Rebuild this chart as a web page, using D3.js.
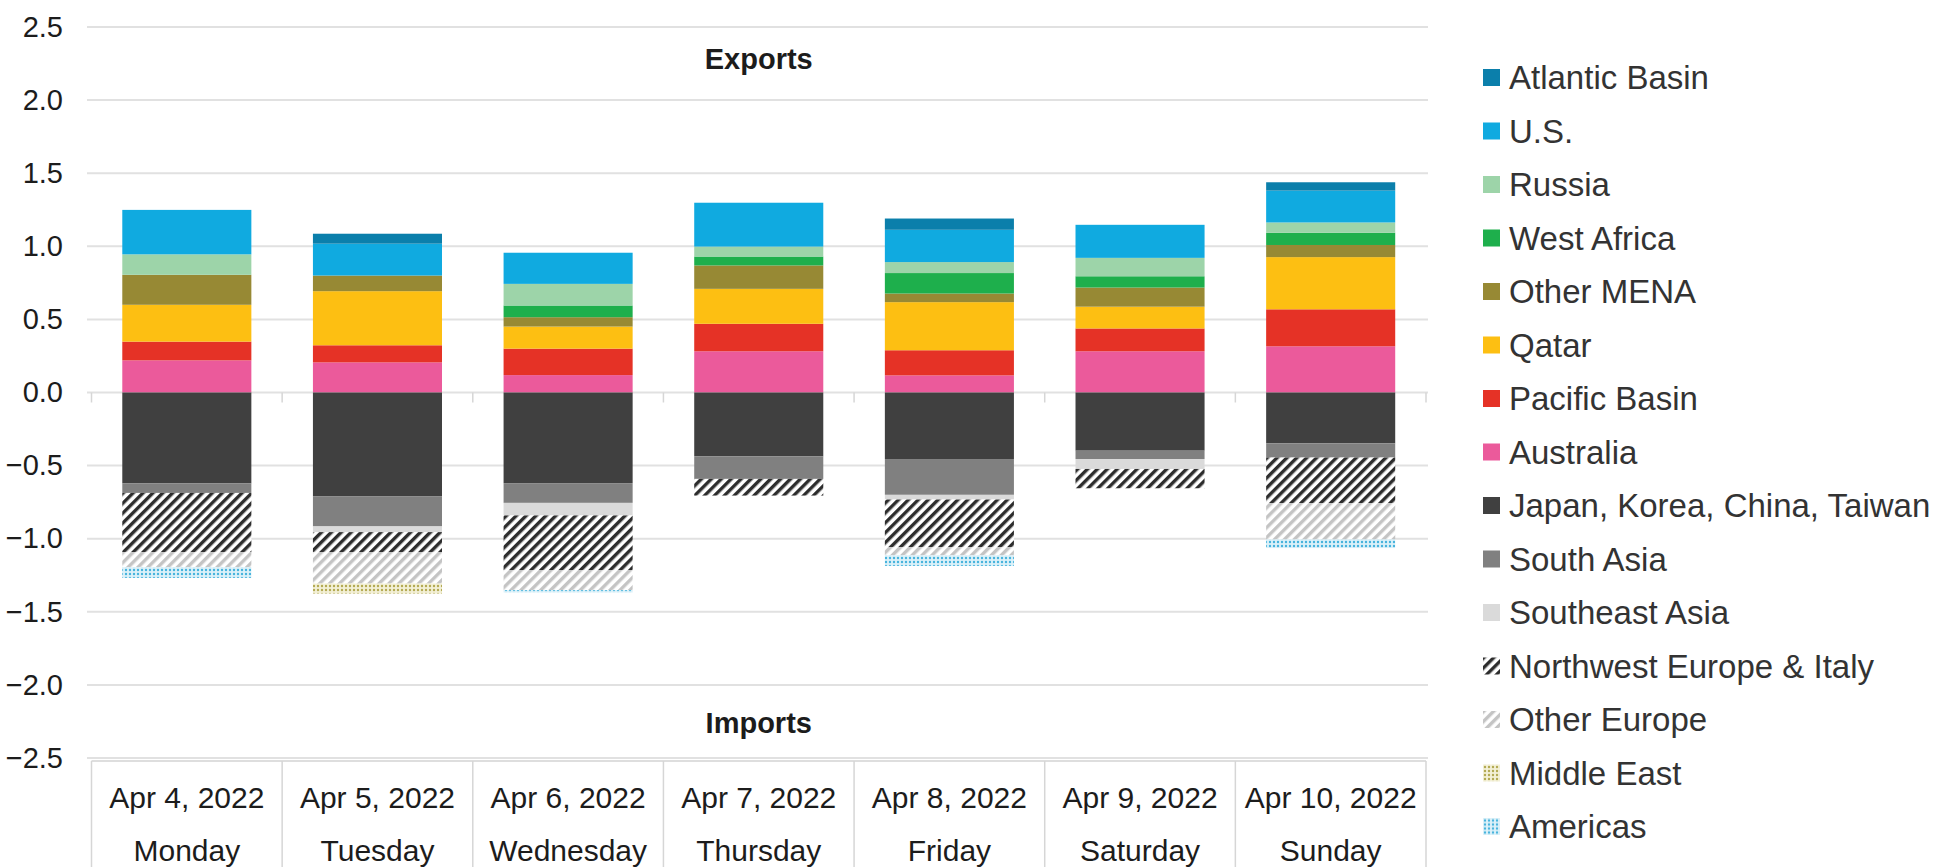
<!DOCTYPE html>
<html>
<head>
<meta charset="utf-8">
<script src="https://cdn.jsdelivr.net/npm/d3@7"></script>
<style>
  html, body { margin: 0; padding: 0; background: #ffffff; }
  svg { display: block; font-family: "Liberation Sans", Arial, sans-serif; }
</style>
</head>
<body>
<svg id="chart" width="1944" height="867"></svg>
<script>
// Daily LNG flows by region (exports positive, imports negative)
const dates = ["Apr 4, 2022", "Apr 5, 2022", "Apr 6, 2022", "Apr 7, 2022", "Apr 8, 2022", "Apr 9, 2022", "Apr 10, 2022"];
const weekdays = ["Monday", "Tuesday", "Wednesday", "Thursday", "Friday", "Saturday", "Sunday"];
const yTicks = [2.5, 2.0, 1.5, 1.0, 0.5, 0.0, -0.5, -1.0, -1.5, -2.0, -2.5];

// Exports
const australia     = [0.220, 0.206, 0.119, 0.282, 0.117, 0.282, 0.316];
const pacificBasin  = [0.128, 0.117, 0.181, 0.188, 0.172, 0.156, 0.253];
const qatar         = [0.252, 0.370, 0.151, 0.239, 0.329, 0.149, 0.357];
const otherMena     = [0.205, 0.107, 0.064, 0.160, 0.059, 0.131, 0.083];
const westAfrica    = [0.000, 0.000, 0.080, 0.061, 0.140, 0.077, 0.084];
const russia        = [0.140, 0.000, 0.148, 0.068, 0.075, 0.126, 0.070];
const us            = [0.304, 0.218, 0.213, 0.300, 0.221, 0.226, 0.218];
const atlanticBasin = [0.000, 0.068, 0.000, 0.000, 0.077, 0.000, 0.057];

// Imports
const japanKoreaChinaTaiwan = [-0.622, -0.709, -0.620, -0.436, -0.455, -0.398, -0.348];
const southAsia             = [-0.065, -0.207, -0.135, -0.155, -0.245, -0.057, -0.097];
const southeastAsia         = [-0.000, -0.039, -0.086, -0.000, -0.032, -0.068, -0.000];
const northwestEurope       = [-0.405, -0.136, -0.375, -0.114, -0.325, -0.132, -0.312];
const otherEurope           = [-0.103, -0.216, -0.136, -0.000, -0.057, -0.000, -0.248];
const middleEast            = [-0.000, -0.068, -0.000, -0.000, -0.000, -0.000, -0.000];
const americas              = [-0.073, -0.000, -0.016, -0.000, -0.072, -0.000, -0.059];

// Stacking order (bottom-up for exports, top-down for imports)
const seriesNames = ["Australia", "Pacific Basin", "Qatar", "Other MENA", "West Africa", "Russia", "U.S.", "Atlantic Basin",
  "Japan, Korea, China, Taiwan", "South Asia", "Southeast Asia", "Northwest Europe & Italy", "Other Europe", "Middle East", "Americas"];
const seriesValues = [australia, pacificBasin, qatar, otherMena, westAfrica, russia, us, atlanticBasin,
  japanKoreaChinaTaiwan, southAsia, southeastAsia, northwestEurope, otherEurope, middleEast, americas];
const legendOrder = ["Atlantic Basin", "U.S.", "Russia", "West Africa", "Other MENA", "Qatar", "Pacific Basin", "Australia",
  "Japan, Korea, China, Taiwan", "South Asia", "Southeast Asia", "Northwest Europe & Italy", "Other Europe", "Middle East", "Americas"];

const fills = {
  "Atlantic Basin": "#0b7fab",
  "U.S.": "#10aae0",
  "Russia": "#9dd4a9",
  "West Africa": "#1eaf4c",
  "Other MENA": "#978934",
  "Qatar": "#fdbf12",
  "Pacific Basin": "#e53226",
  "Australia": "#eb5a9b",
  "Japan, Korea, China, Taiwan": "#404040",
  "South Asia": "#808080",
  "Southeast Asia": "#dadada",
  "Northwest Europe & Italy": "url(#hatchDark)",
  "Other Europe": "url(#hatchLight)",
  "Middle East": "url(#dotsOlive)",
  "Americas": "url(#dotsBlue)"
};

const rows = dates.map((d, i) => {
  const r = { date: d, day: weekdays[i] };
  seriesNames.forEach((n, k) => { r[n] = seriesValues[k][i]; });
  return r;
});

const svg = d3.select("#chart");
const defs = svg.append("defs");

function hatch(id, color) {
  const p = defs.append("pattern").attr("id", id)
    .attr("patternUnits", "userSpaceOnUse")
    .attr("width", 7).attr("height", 7)
    .attr("patternTransform", "rotate(45)");
  p.append("rect").attr("width", 7).attr("height", 7).attr("fill", "#ffffff");
  p.append("rect").attr("x", 0).attr("width", 3.4).attr("height", 7).attr("fill", color);
}
hatch("hatchDark", "#2d2d2d");
hatch("hatchLight", "#c4c4c4");

function dots(id, bg, color) {
  const p = defs.append("pattern").attr("id", id)
    .attr("patternUnits", "userSpaceOnUse")
    .attr("width", 4).attr("height", 4);
  p.append("rect").attr("width", 4).attr("height", 4).attr("fill", bg);
  p.append("circle").attr("cx", 2).attr("cy", 2).attr("r", 1.2).attr("fill", color);
}
dots("dotsOlive", "#f3f0d6", "#b3aa52");
dots("dotsBlue", "#dcf1f9", "#45b3dd");

const plotLeft = 91.5, plotRight = 1426;
const x = d3.scaleBand().domain(dates).range([plotLeft, plotRight]).paddingInner(0.323).paddingOuter(0.1615);
const y = d3.scaleLinear().domain([-2.5, 2.5]).range([758, 27]);

// Horizontal gridlines
svg.append("g").selectAll("line").data(yTicks).join("line")
  .attr("x1", 87).attr("x2", 1428)
  .attr("y1", d => y(d)).attr("y2", d => y(d))
  .attr("stroke", "#e1e1e1").attr("stroke-width", 2);

// Value axis labels
const yAxis = d3.axisLeft(y).tickValues(yTicks).tickFormat(d3.format(".1f")).tickSize(0).tickPadding(0);
svg.append("g").attr("transform", "translate(63,0)").call(yAxis)
  .call(g => g.select(".domain").remove())
  .call(g => g.selectAll("text").attr("font-size", 29).attr("fill", "#1c1c1c")
    .attr("font-family", "Liberation Sans, Arial, sans-serif"));

// Stacked bars
const stack = d3.stack().keys(seriesNames).offset(d3.stackOffsetDiverging);
const layers = stack(rows);

svg.append("g").selectAll("g").data(layers).join("g")
  .attr("fill", d => fills[d.key])
  .selectAll("rect").data(d => d).join("rect")
  .attr("x", d => x(d.data.date))
  .attr("width", x.bandwidth())
  .attr("y", d => y(Math.max(d[0], d[1])))
  .attr("height", d => Math.abs(y(d[0]) - y(d[1])));

// Boundary ticks along the zero line
const step = x.step();
const bounds = d3.range(dates.length + 1).map(i => plotLeft + i * step);
svg.append("g").selectAll("line").data(bounds).join("line")
  .attr("x1", d => d).attr("x2", d => d)
  .attr("y1", y(0)).attr("y2", y(0) + 10)
  .attr("stroke", "#d6d6d6").attr("stroke-width", 1.5);

// Category table at the bottom
const tableTop = 761;
svg.append("line").attr("x1", plotLeft).attr("x2", plotRight)
  .attr("y1", tableTop).attr("y2", tableTop)
  .attr("stroke", "#dedede").attr("stroke-width", 2);
svg.append("g").selectAll("line").data(bounds).join("line")
  .attr("x1", d => d).attr("x2", d => d)
  .attr("y1", tableTop).attr("y2", 867)
  .attr("stroke", "#d6d6d6").attr("stroke-width", 1.5);

const cat = svg.append("g").selectAll("g").data(rows).join("g")
  .attr("transform", d => `translate(${x(d.date) + x.bandwidth() / 2},0)`);
cat.append("text").attr("y", 808).attr("text-anchor", "middle")
  .attr("font-size", 30).attr("fill", "#1c1c1c").text(d => d.date);
cat.append("text").attr("y", 861).attr("text-anchor", "middle")
  .attr("font-size", 30).attr("fill", "#1c1c1c").text(d => d.day);

// Section titles
const midX = (plotLeft + plotRight) / 2;
svg.append("text").attr("x", midX).attr("y", 69).attr("text-anchor", "middle")
  .attr("font-size", 29).attr("font-weight", "bold").attr("fill", "#1c1c1c").text("Exports");
svg.append("text").attr("x", midX).attr("y", 733).attr("text-anchor", "middle")
  .attr("font-size", 29).attr("font-weight", "bold").attr("fill", "#1c1c1c").text("Imports");

// Legend
const legend = svg.append("g").selectAll("g").data(legendOrder).join("g")
  .attr("transform", (d, i) => `translate(1483,${77.5 + i * 53.5})`);
legend.append("rect").attr("x", 0).attr("y", -8.5).attr("width", 17).attr("height", 17)
  .attr("fill", d => fills[d]);
legend.append("text").attr("x", 26).attr("y", 0).attr("dy", "0.36em")
  .attr("font-size", 33).attr("fill", "#333333").text(d => d);
</script>
</body>
</html>
